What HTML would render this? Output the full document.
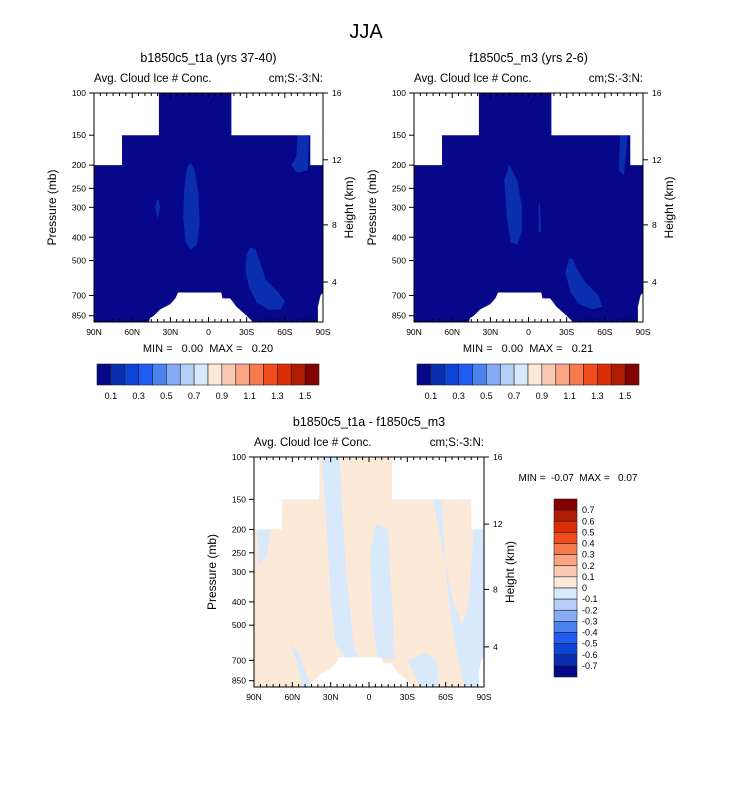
<!DOCTYPE html>
<html><head><meta charset="utf-8"><style>
body{margin:0;background:#fff;font-family:"Liberation Sans",Arial,sans-serif}
svg text{font-family:"Liberation Sans",Arial,sans-serif}
</style></head><body>
<svg id="fig" width="733" height="784" viewBox="0 0 733 784" xmlns="http://www.w3.org/2000/svg">
<text x="366" y="38" font-size="20" text-anchor="middle">JJA</text>
</svg>
<script>
const NS="http://www.w3.org/2000/svg";
const svg=document.getElementById('fig');
// ---- data ----
const latTicks=[90,60,30,0,-30,-60,-90];
const latLabels=["90N","60N","30N","0","30S","60S","90S"];
const presTicks=[100,150,200,250,300,400,500,700,850];
const hTicks=[16,12,8,4];
const hPres=[100,190,355,615];
const absLevels=["0.1","0.3","0.5","0.7","0.9","1.1","1.3","1.5"];
const diffLevels=["0.7","0.6","0.5","0.4","0.3","0.2","0.1","0","-0.1","-0.2","-0.3","-0.4","-0.5","-0.6","-0.7"];
const palette=["#07078a","#0a2eb0","#0b44d6","#1f5cf4","#4c82ef","#87acf6","#b6cff9","#d9e9fc","#fde9d8","#fbcab4","#f9a482","#f77a4e","#f24c1c","#dc2d06","#b01b03","#850000"];
// masked (missing) regions as lat/pressure polygons
const maskTL=[[90,100],[39,100],[39,150],[68,150],[68,200],[90,200]];
const maskTR=[[-18,100],[-90,100],[-90,200],[-80,200],[-80,150],[-18,150]];
const terrain1=[[47,1000],[46,870],[43,850],[38,800],[30,760],[26,720],[24,680],[-10,680],[-11,720],[-17,720],[-22,780],[-30,850],[-35,1000]];
const terrainR=[[-86,1000],[-86,780],[-88,700],[-90,680],[-90,1000]];
const stripP2a=[[-20.5,100],[-22.5,100],[-22.5,150],[-20.5,150]];
const stripP2b=[[-24,100],[-25.5,100],[-25.5,150],[-24,150]];
// anomaly blobs (lat, pressure)
const blob1A=[[14,195],[11,210],[8,260],[7,350],[9,430],[14,450],[18,420],[20,330],[19,250],[17,205]];
const blob1B=[[-33,440],[-30,470],[-29,550],[-32,650],[-38,750],[-48,805],[-57,800],[-60,740],[-55,680],[-45,600],[-40,500],[-37,450]];
const blob1C=[[-70,150],[-69,185],[-65,200],[-70,215],[-78,210],[-79,150]];
const blob1D=[[40,275],[42,300],[40,335],[38,300]];
const blob2A=[[15,200],[9,230],[5,300],[5,380],[9,430],[14,420],[17,330],[19,230]];
const blob2B=[[-32,490],[-29,560],[-33,680],[-40,760],[-50,800],[-58,780],[-55,700],[-45,620],[-38,540],[-35,495]];
const blob2C=[[-72,150],[-71,210],[-75,220],[-78,150]];
const blob2E=[[-9,290],[-10,380],[-8,380],[-8,290]];
const diffBlue=[
 [[37,100],[23,100],[18,300],[12,600],[8,690],[18,690],[26,600],[30,400],[33,200]],
 [[-1,250],[-5,190],[-15,200],[-19,500],[-20,690],[-12,690],[-7,690],[-3,500]],
 [[-50,150],[-57,150],[-60,300],[-65,500],[-70,700],[-75,1000],[-90,1000],[-90,200],[-82,200],[-78,400],[-73,500],[-66,400],[-58,250]],
 [[-30,700],[-33,750],[-40,1000],[-55,1000],[-53,700],[-45,650]],
 [[88,200],[77,200],[80,260],[86,280]],
 [[62,600],[57,700],[52,900],[45,900],[55,650]]
];
const panelTitles=["b1850c5_t1a (yrs 37-40)","f1850c5_m3 (yrs 2-6)","b1850c5_t1a - f1850c5_m3"];
const minMax=[["0.00","0.20"],["0.00","0.21"],["-0.07","0.07"]];
// ---- helpers ----
function el(tag,attrs,parent){const e=document.createElementNS(NS,tag);for(const k in attrs)e.setAttribute(k,attrs[k]);(parent||svg).appendChild(e);return e;}
function txt(x,y,s,size,anchor,parent,extra){const t=el('text',Object.assign({x:x,y:y,'font-size':size,'text-anchor':anchor||'start'},extra||{}),parent);t.textContent=s;return t;}
function makeAxes(L,T,W,H){const pmax=903;return{x:lat=>L+(90-lat)/180*W,y:p=>T+Math.log(Math.min(p,pmax)/100)/Math.log(pmax/100)*H};}
function poly(ax,pts,fill,g){return el('polygon',{points:pts.map(q=>ax.x(q[0]).toFixed(1)+','+ax.y(q[1]).toFixed(1)).join(' '),fill:fill},g);}
function panel(idx,L,T,W,H,bg,blobs,masks,blobColor){
 const ax=makeAxes(L,T,W,H);
 const g=el('g',{});
 
 
 const cp=el('clipPath',{id:'cp'+idx},g);el('rect',{x:L,y:T,width:W,height:H},cp);
 const pg=el('g',{'clip-path':'url(#cp'+idx+')'},g);
 el('rect',{x:L,y:T,width:W,height:H,fill:bg},pg);
 blobs.forEach(b=>{const p=poly(ax,b,blobColor,pg);});
 masks.forEach(m=>{const p=poly(ax,m,'#fff',pg);});
 el('rect',{x:L,y:T,width:W,height:H,fill:'none',stroke:'#000','stroke-width':1},g);
 latTicks.forEach((lat,i)=>{const x=ax.x(lat);el('line',{x1:x,y1:T+H,x2:x,y2:T+H-5,stroke:'#000'},g);el('line',{x1:x,y1:T,x2:x,y2:T+5,stroke:'#000'},g);
   const t=txt(x,T+H+13,latLabels[i],8.5,'middle',g);});
 for(let lat=85;lat>-90;lat-=5){if(lat%30===0)continue;const x=ax.x(lat);el('line',{x1:x,y1:T+H,x2:x,y2:T+H-3,stroke:'#000'},g);el('line',{x1:x,y1:T,x2:x,y2:T+3,stroke:'#000'},g);}
 presTicks.forEach(p=>{const y=ax.y(p);el('line',{x1:L,y1:y,x2:L-5,y2:y,stroke:'#000'},g);
   const t=txt(L-8,y+3,String(p),8.5,'end',g);});
 hTicks.forEach((h,i)=>{const y=ax.y(hPres[i]);el('line',{x1:L+W,y1:y,x2:L+W+5,y2:y,stroke:'#000'},g);
   const t=txt(L+W+9,y+3,String(h),8.5,'start',g);});
 const yt=txt(0,0,'Pressure (mb)',12,'middle',g,{transform:`translate(${L-38},${T+H/2}) rotate(-90)`});
 
 const ht=txt(0,0,'Height (km)',12,'middle',g,{transform:`translate(${L+W+30},${T+H/2}) rotate(-90)`});
 
 const st=txt(L,T-11,'Avg. Cloud Ice # Conc.',11.5,'start',g);
 const ut=txt(L+W,T-11,'cm;S:-3:N:',11.5,'end',g);
 const tt=txt(L+W/2,T-31,panelTitles[idx],12.5,'middle',g);
 return g;
}
const m1=[maskTL,maskTR,terrain1,terrainR];
panel(0,94,93,229,229,palette[0],[blob1A,blob1B,blob1C,blob1D],m1,palette[1]);
panel(1,414,93,229,229,palette[0],[blob2A,blob2B,blob2C,blob2E],m1.concat([stripP2a,stripP2b]),palette[1]);
panel(2,254,457,230,230,palette[8],diffBlue,m1,palette[7]);
const sp='\u00a0';
// min/max
[[208,352],[528,352]].forEach((pos,i)=>{const t=txt(pos[0],pos[1],'MIN ='+sp+sp+sp+minMax[i][0]+sp+sp+'MAX ='+sp+sp+sp+minMax[i][1],11,'middle');
 });
{const t=txt(578,481,'MIN ='+sp+sp+minMax[2][0]+sp+sp+'MAX ='+sp+sp+sp+minMax[2][1],10,'middle');}
// horizontal colorbars
[97,417].forEach(L=>{const g=el('g',{});
 const w=222/16;palette.forEach((c,i)=>el('rect',{x:L+i*w,y:364,width:w,height:21,fill:c,stroke:'#222','stroke-width':0.6},g));
 absLevels.forEach((s,i)=>{const t=txt(L+(2*i+1)*w,399,s,9,'middle',g);});});
// vertical diff colorbar
{const g=el('g',{});
 const h=178/16;palette.slice().reverse().forEach((c,i)=>el('rect',{x:554,y:499+i*h,width:23,height:h,fill:c,stroke:'#222','stroke-width':0.6},g));
 diffLevels.forEach((s,i)=>{const t=txt(582,499+(i+1)*h+3,s,9,'start',g);});}
</script>
</body></html>
